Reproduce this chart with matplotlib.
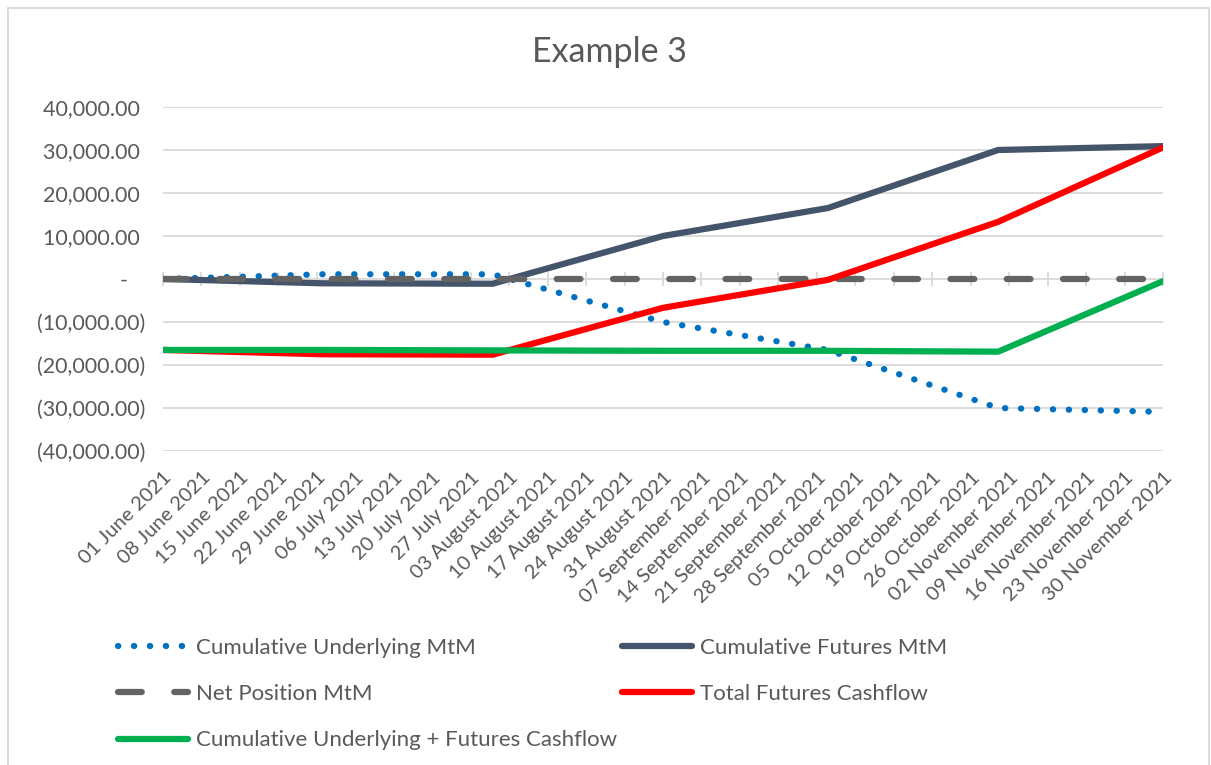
import numpy as np
import pandas as pd
import matplotlib
matplotlib.use("Agg")
import matplotlib.pyplot as plt
import matplotlib.dates as mdates
from matplotlib.ticker import FuncFormatter
from matplotlib.patches import Rectangle

dates = pd.to_datetime(["2021-06-01", "2021-06-30", "2021-07-31", "2021-08-31",
                        "2021-09-30", "2021-10-31", "2021-11-30"])
underlying_mtm = [0, 1100, 1100, -10000, -16500, -30000, -30900]
futures_mtm = [0, -1000, -1100, 10000, 16500, 30000, 30900]
net_mtm = [0, 0, 0, 0, 0, 0, 0]
futures_cashflow = [-16500, -17500, -17600, -6700, -200, 13300, 30600]
underlying_plus_cf = [-16500, -16500, -16600, -16700, -16700, -16900, -500]

tick_start = "2021-06-01"
n_ticks = 27
y_min, y_max, y_step = -40000, 40000, 10000

txt_col = "#595959"
grid_col = "#D9D9D9"
plt.rcParams["font.family"] = ["Lato", "DejaVu Sans"]

fig = plt.figure(figsize=(12.11, 7.65), dpi=100)
ax = fig.add_axes([163 / 1211, 1 - 451 / 765, 1000 / 1211, 344 / 765])

# chart area border
fig.patches.append(Rectangle((8 / 1211, -0.01), (1209 - 8) / 1211, 1 - 8 / 765 + 0.01,
                             transform=fig.transFigure, fill=False,
                             edgecolor=grid_col, linewidth=1.3))

lw = 4.5
ax.plot(dates, underlying_mtm, color="#0070C0", lw=lw, linestyle=(0, (0.05, 2.5)),
        dash_capstyle="round", label="Cumulative Underlying MtM", zorder=3)
ax.plot(dates, futures_mtm, color="#44546A", lw=lw, solid_capstyle="round",
        solid_joinstyle="round", label="Cumulative Futures MtM", zorder=4)
ax.plot(dates, net_mtm, color="#636363", lw=lw, linestyle=(0, (3.8, 5.2)),
        dash_capstyle="round", label="Net Position MtM", zorder=5)
ax.plot(dates, futures_cashflow, color="#FF0000", lw=lw, solid_capstyle="round",
        solid_joinstyle="round", label="Total Futures Cashflow", zorder=6)
ax.plot(dates, underlying_plus_cf, color="#00B050", lw=lw, solid_capstyle="round",
        solid_joinstyle="round", label="Cumulative Underlying + Futures Cashflow", zorder=7)

# axes
ticks = pd.date_range(tick_start, periods=n_ticks, freq="7D")
ax.set_xlim(ticks[0], ticks[-1])
ax.set_ylim(y_min, y_max)
ax.set_yticks(np.arange(y_min, y_max + 1, y_step))


def acct(v, pos):
    if abs(v) < 1e-9:
        return "-   "
    if v < 0:
        return "({:,.2f})".format(-v)
    return "{:,.2f} ".format(v)


ax.yaxis.set_major_formatter(FuncFormatter(acct))
ax.grid(axis="y", color=grid_col, linewidth=1.3, zorder=0)
for s in ax.spines.values():
    s.set_visible(False)
ax.tick_params(axis="y", length=0, pad=13, labelsize=15.5, labelcolor=txt_col)

ax.set_xticks(ticks)
ax.xaxis.set_major_formatter(mdates.DateFormatter("%d %B %Y"))
ax.tick_params(axis="x", length=0, pad=13, labelsize=14.5, labelcolor=txt_col)
plt.setp(ax.get_xticklabels(), rotation=45, ha="right", rotation_mode="anchor")

# horizontal axis line crossing at zero with weekly tick marks
zero_ax = ax.secondary_xaxis(0.5)
zero_ax.set_xticks(ticks)
zero_ax.tick_params(axis="x", direction="inout", length=10, color=grid_col,
                    width=1.3, labelbottom=False, labeltop=False)
zero_ax.spines["bottom"].set_color(grid_col)
zero_ax.spines["bottom"].set_linewidth(1.3)
for k in ["top", "left", "right"]:
    zero_ax.spines[k].set_visible(False)
zero_ax.set_zorder(1)

fig.text(609 / 1211, 1 - 52 / 765, "Example 3", ha="center", va="center",
         fontsize=24.5, color=txt_col)

handles, labels = ax.get_legend_handles_labels()
order = [0, 2, 4, 1, 3]
fig.legend([handles[i] for i in order], [labels[i] for i in order],
           loc="upper left", bbox_to_anchor=(118 / 1211, 1 - 638 / 765),
           ncol=2, frameon=False, fontsize=16, labelcolor=txt_col,
           handlelength=3.15, handletextpad=0.36, columnspacing=0.2,
           labelspacing=1.18, borderpad=0, borderaxespad=0)

fig.savefig("out.png", dpi=100)
